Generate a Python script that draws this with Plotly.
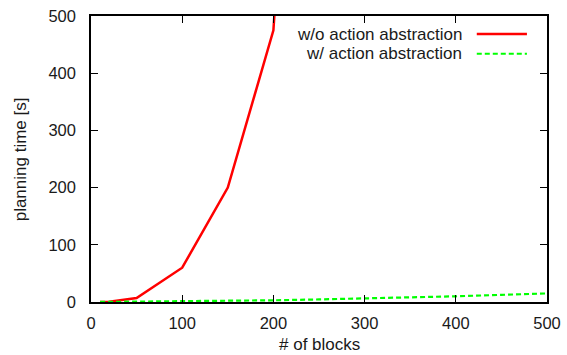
import plotly.graph_objects as go

blocks_wo = [10, 20, 50, 100, 150, 200, 250]
time_wo = [0.1, 0.5, 7, 60, 200, 475, 1700]

blocks_w = [10, 50, 100, 150, 200, 250, 300, 350, 400, 450, 500]
time_w = [0.1, 0.5, 1, 2, 3, 4.5, 6, 8, 10, 12.5, 15]

labels = ["w/o action abstraction", "w/ action abstraction"]
colors = ["#ff0000", "#00ff00"]
x_title = "# of blocks"
y_title = "planning time [s]"

font = "Liberation Sans, Arial, sans-serif"
tcol = "#1a1a1a"

fig = go.Figure()
fig.add_trace(go.Scatter(x=blocks_wo, y=time_wo, mode="lines", name=labels[0],
                         line=dict(color=colors[0], width=2.5), showlegend=False))
fig.add_trace(go.Scatter(x=blocks_w, y=time_w, mode="lines", name=labels[1],
                         line=dict(color=colors[1], width=2.2, dash="5px,3px"), showlegend=False))

# manual legend (gnuplot style: text right-aligned, sample on right)
leg_y = [0.937, 0.868]
dashes = ["solid", "5px,3px"]
widths = [2.5, 2.2]
for lab, col, yy, d, w in zip(labels, colors, leg_y, dashes, widths):
    fig.add_annotation(x=0.816, y=yy, xref="paper", yref="paper", text=lab,
                       showarrow=False, xanchor="right", yanchor="middle", borderpad=0,
                       font=dict(family=font, size=17, color=tcol))
    fig.add_shape(type="line", xref="paper", yref="paper", x0=0.846, x1=0.956,
                  y0=yy, y1=yy, line=dict(color=col, width=w, dash=d))

fig.add_annotation(x=0.5, y=-0.150, xref="paper", yref="paper", text=x_title,
                   showarrow=False, xanchor="center", yanchor="middle", borderpad=0,
                   font=dict(family=font, size=17, color=tcol))
fig.add_annotation(x=-0.155, y=0.5, xref="paper", yref="paper", text=y_title,
                   showarrow=False, xanchor="center", yanchor="middle", textangle=-90,
                   borderpad=0, font=dict(family=font, size=17, color=tcol))

axis_common = dict(showline=True, linecolor="black", linewidth=1.5, mirror="ticks",
                   ticks="inside", ticklen=7, tickcolor="black", tickwidth=1,
                   showgrid=False, zeroline=False, automargin=False,
                   tickfont=dict(family=font, size=16.5, color=tcol))

fig.update_xaxes(range=[0, 500], tickvals=[0, 100, 200, 300, 400, 500],
                 ticklabelstandoff=5, **axis_common)
fig.update_yaxes(range=[0, 500], tickvals=[0, 100, 200, 300, 400, 500],
                 ticklabelstandoff=10, **axis_common)

fig.update_layout(width=567, height=355, margin=dict(l=91, r=20, t=16, b=53),
                  plot_bgcolor="white", paper_bgcolor="white")

fig.write_html("out.html", config={"displayModeBar": False},
               post_script="document.body.style.margin='0px';")
